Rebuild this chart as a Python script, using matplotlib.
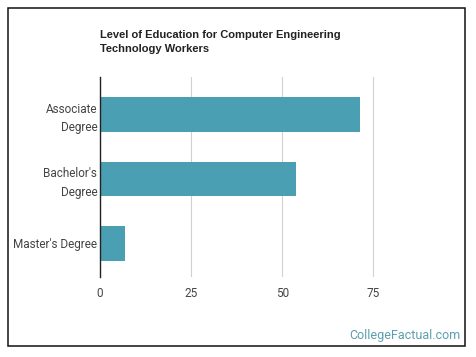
import matplotlib
matplotlib.use('Agg')
import matplotlib.pyplot as plt
from matplotlib.patches import Rectangle

# data
categories = ['Associate\nDegree', "Bachelor's\nDegree", "Master's Degree"]
values = [71.3, 53.8, 6.9]
ticks = [0, 25, 50, 75]

W, H = 476, 357
fig = plt.figure(figsize=(W / 100, H / 100), dpi=100)

# axes box in pixels: left 100, top 77, right ~400, bottom 277
ax = fig.add_axes([100 / W, 1 - 277 / H, 300 / W, 200 / H])
ax.barh(range(len(values)), values, height=0.54, color='#4aa0b2', zorder=2)
ax.set_ylim(2.52, -0.58)
ax.set_xlim(0, 300 / 91.1 * 25)

ax.set_xticks(ticks)
ax.set_xticklabels([str(t) for t in ticks])
ax.set_yticks(range(len(categories)))
ax.set_yticklabels(categories, multialignment='right', linespacing=1.55)
ax.grid(axis='x', color='#d0d0d0', linewidth=0.8, zorder=0)
for s in ['top', 'right', 'bottom']:
    ax.spines[s].set_visible(False)
ax.spines['left'].set_color('#222222')
ax.spines['left'].set_linewidth(1)
ax.tick_params(axis='both', length=0, labelsize=8.5, labelcolor='#444444',
               labelfontfamily='Roboto')
ax.tick_params(axis='x', pad=7)
ax.tick_params(axis='y', pad=2)

fig.text(100 / W, 1 - 30 / H, 'Level of Education for Computer Engineering\nTechnology Workers',
         ha='left', va='top', fontsize=8, fontweight='bold', family='Liberation Sans',
         color='#222222', linespacing=1.45)

fig.text(460 / W, 1 - 335 / H, 'CollegeFactual.com', ha='right', va='center',
         fontsize=9, family='Roboto', color='#5b9fb0')

# outer frame
fig.patches.append(Rectangle((8 / W, 1 - 346 / H), 457 / W, 338 / H,
                             transform=fig.transFigure, fill=False,
                             edgecolor='#111111', linewidth=1.1))

fig.savefig('out.png', dpi=100)
